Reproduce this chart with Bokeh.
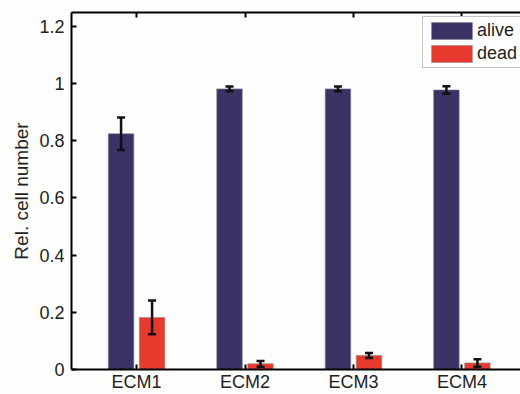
from bokeh.plotting import figure
from bokeh.models import (ColumnDataSource, Whisker, FixedTicker, LinearAxis, Range1d,
                          Legend, LegendItem, TeeHead)
from bokeh.transform import dodge
from bokeh.embed import file_html
from bokeh.resources import INLINE

categories = ["ECM1", "ECM2", "ECM3", "ECM4"]
positions = [1, 2, 3, 4]
alive = [0.824, 0.981, 0.981, 0.977]
alive_err = [0.057, 0.008, 0.008, 0.013]
dead = [0.182, 0.020, 0.049, 0.023]
dead_err = [0.059, 0.010, 0.009, 0.013]
yticks = [0, 0.2, 0.4, 0.6, 0.8, 1.0, 1.2]
ytick_labels = {0: "0", 0.2: "0.2", 0.4: "0.4", 0.6: "0.6", 0.8: "0.8", 1.0: "1", 1.2: "1.2"}

ALIVE_C = "#3b3366"
DEAD_C = "#e8392f"
BG = "#fdfdfb"
FONT = "Liberation Sans"

src = ColumnDataSource(dict(
    x=positions,
    alive=alive,
    alive_lo=[a - e for a, e in zip(alive, alive_err)],
    alive_hi=[a + e for a, e in zip(alive, alive_err)],
    dead=dead,
    dead_lo=[d - e for d, e in zip(dead, dead_err)],
    dead_hi=[d + e for d, e in zip(dead, dead_err)],
))

p = figure(width=520, height=394, output_backend="svg", toolbar_location=None,
           x_range=Range1d(0.4, 4.54), y_range=Range1d(0, 1.248),
           min_border_left=71, min_border_right=0, min_border_top=12, min_border_bottom=25,
           background_fill_color=BG, border_fill_color=BG)
p.outline_line_color = None
p.grid.visible = False

off = 0.143
bw = 0.235
r_alive = p.vbar(x=dodge("x", -off), top="alive", width=bw, source=src,
                 fill_color=ALIVE_C, line_color="#7a7a8a", line_width=0.6)
r_dead = p.vbar(x=dodge("x", off), top="dead", width=bw, source=src,
                fill_color=DEAD_C, line_color="#8a8a8a", line_width=0.6)

for base, lo, hi in [(dodge("x", -off), "alive_lo", "alive_hi"), (dodge("x", off), "dead_lo", "dead_hi")]:
    w = Whisker(base=base, lower=lo, upper=hi, source=src, line_color="#111111", line_width=2.5,
                level="overlay",
                upper_head=TeeHead(size=8, line_width=2.5, line_color="#111111"),
                lower_head=TeeHead(size=8, line_width=2.5, line_color="#111111"))
    p.add_layout(w)

def style_axis(ax):
    ax.axis_line_width = 2
    ax.axis_line_color = "black"
    ax.major_tick_in = 5
    ax.major_tick_out = 0
    ax.major_tick_line_width = 2
    ax.minor_tick_line_color = None
    ax.major_label_text_font = FONT
    ax.major_label_text_font_size = "18px"
    ax.major_label_text_color = "#222222"

xa = p.xaxis[0]
xa.ticker = FixedTicker(ticks=positions)
xa.major_label_overrides = {pos: c for pos, c in zip(positions, categories)}
style_axis(xa)
xa.major_label_standoff = 2

ya = p.yaxis[0]
ya.ticker = FixedTicker(ticks=yticks)
ya.major_label_overrides = ytick_labels
style_axis(ya)
ya.major_label_standoff = 7
ya.axis_label = "Rel. cell number"
ya.axis_label_text_font = FONT
ya.axis_label_text_font_size = "19px"
ya.axis_label_text_font_style = "normal"
ya.axis_label_text_color = "#222222"
ya.axis_label_standoff = 4

top = LinearAxis(ticker=FixedTicker(ticks=positions))
style_axis(top)
top.major_label_text_font_size = "0px"
top.major_label_text_color = None
p.add_layout(top, "above")

legend = Legend(items=[LegendItem(label="alive", renderers=[r_alive]),
                       LegendItem(label="dead", renderers=[r_dead])],
                location=(351, 301), margin=0,
                glyph_width=51, glyph_height=21, label_standoff=0,
                label_text_font=FONT, label_text_font_size="18px", label_text_color="#222222",
                label_height=17, spacing=2, padding=3,
                border_line_color="#888888", border_line_width=1,
                background_fill_color="white", background_fill_alpha=1)
p.add_layout(legend)

open("out.html", "w").write(file_html(p, INLINE))
